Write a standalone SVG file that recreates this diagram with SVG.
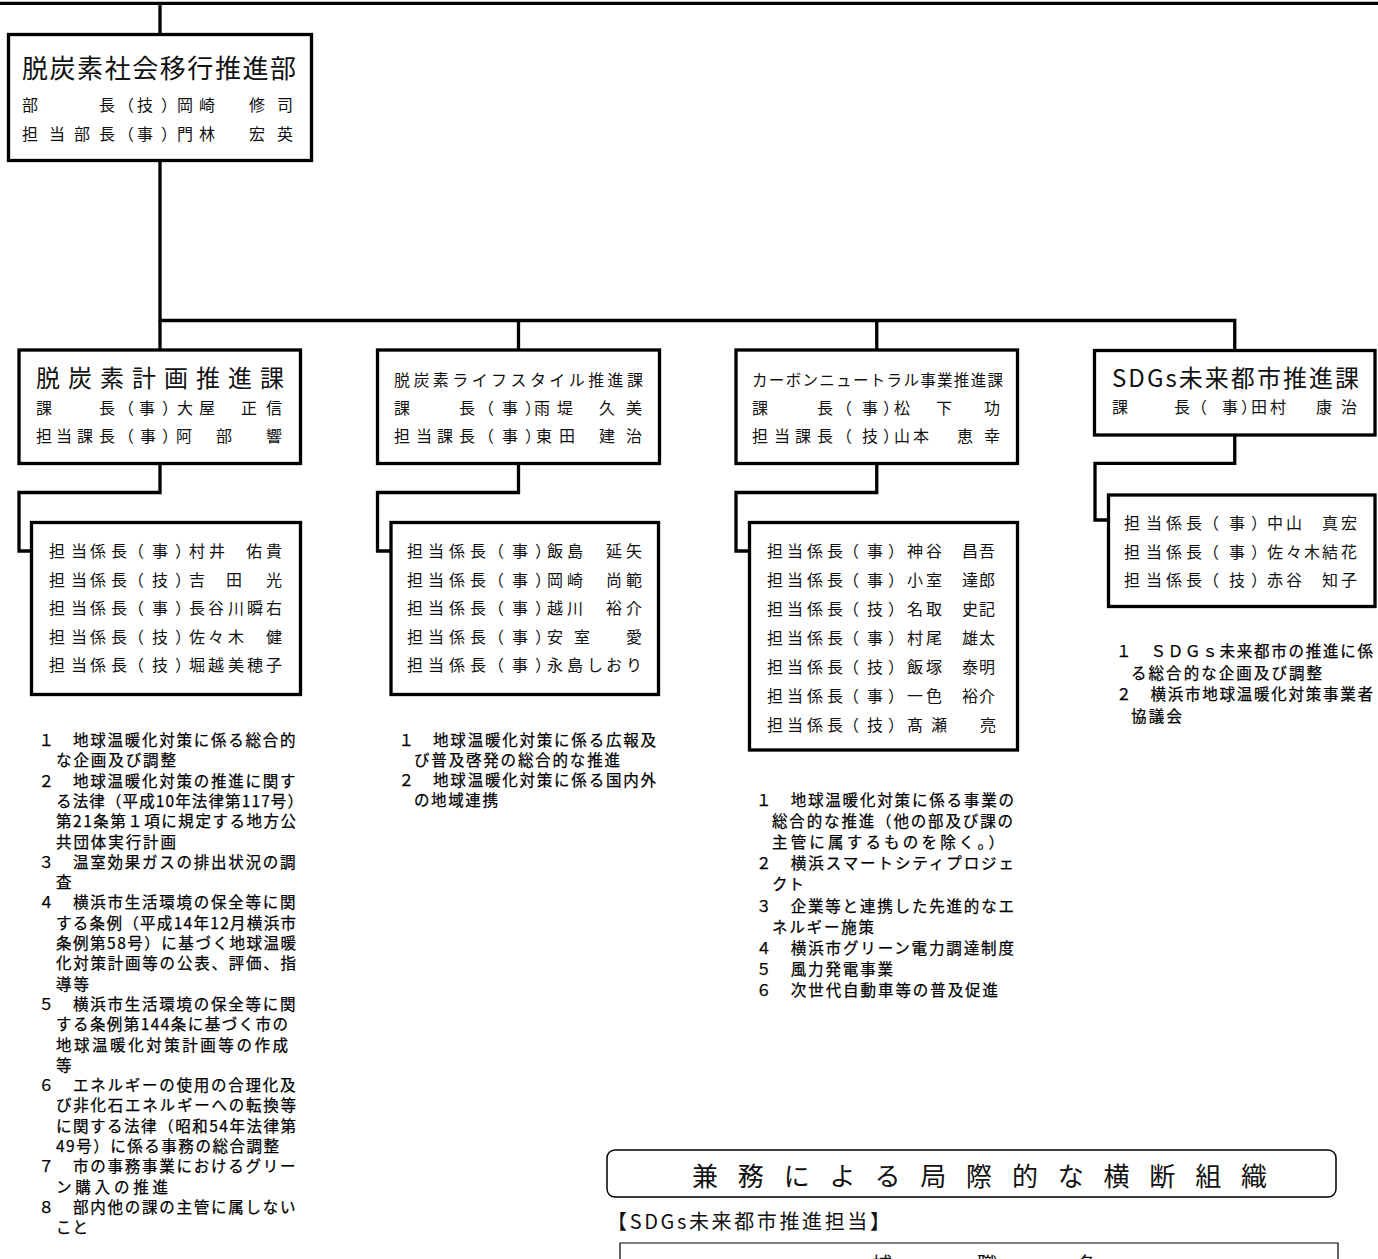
<svg xmlns="http://www.w3.org/2000/svg" width="1378" height="1259" viewBox="0 0 1378 1259">
<style>
.box{fill:#fff;stroke:#000;stroke-width:3.3}
.conn{fill:none;stroke:#000;stroke-width:3.3;stroke-linejoin:miter}
.thin{fill:none;stroke:#000;stroke-width:1.5}
text{font-family:"Noto Sans CJK JP","Noto Sans CJK SC",sans-serif;fill:#111}
.n{font-size:16px}
.d{font-size:15.5px;fill:#000;stroke:#000;stroke-width:0.25}
.h24{font-size:24px}
.h26{font-size:26px}
</style>
<rect width="1378" height="1259" fill="#fff"/>
<g id="connectors">
<path class="conn" d="M0 3.3 H1378"/>
<path class="conn" d="M160 3 V34.5"/>
<path class="conn" d="M160 160.5 V320.5 H1234.75 V350.5"/>
<path class="conn" d="M160 320.5 V350"/>
<path class="conn" d="M518.5 320.5 V350"/>
<path class="conn" d="M876.75 320.5 V350"/>
<path class="conn" d="M160 463.5 V492.5 H19 V551 H31.5"/>
<path class="conn" d="M518.5 463.5 V492.5 H377.5 V551 H391"/>
<path class="conn" d="M876.75 463.5 V492.5 H736 V551 H749.5"/>
<path class="conn" d="M1234.75 435 V463.3 H1095 V520 H1108.5"/>
</g>
<g id="dept">
<rect class="box" x="8.5" y="34.5" width="303" height="126"/>
<text class="h26" x="22" y="78" textLength="274" lengthAdjust="spacing">脱炭素社会移行推進部</text>
<text class="n" x="22 48 74 99 118 137 161 177 199 224 249 277" y="111">部　　長（技）岡崎　修司</text>
<text class="n" x="22 49 74 99 118 137 161 177 199 224 249 277" y="140">担当部長（事）門林　宏英</text>
</g>
<g id="ka1">
<rect class="box" x="19" y="350" width="281.5" height="113.5"/>
<text class="h24" x="36" y="387" textLength="248" lengthAdjust="spacing">脱炭素計画推進課</text>
<text class="n" x="36 57 78 99 118 139 162 177 199 220 241 266" y="414">課　　長（事）大屋　正信</text>
<text class="n" x="36 56 77 99 118 140 162 176 196 216 233 250 266" y="442">担当課長（事）阿　部　　響</text>
</g>
<g id="kakari1">
<rect class="box" x="31.5" y="522.5" width="269" height="172"/>
<text class="n" x="49 71 90 111 128 152 175 189 209 228 246 266" y="557">担当係長（事）村井　佑貴</text>
<text class="n" x="49 71 90 111 128 152 175 189 207 226 239 252 266" y="585.5">担当係長（技）吉　田　　光</text>
<text class="n" x="49 71 90 111 128 152 175 189 208 228 247 266" y="614">担当係長（事）長谷川瞬右</text>
<text class="n" x="49 71 90 111 128 152 175 189 208 228 247 266" y="642.5">担当係長（技）佐々木　健</text>
<text class="n" x="49 71 90 111 128 152 175 189 208 228 247 266" y="671">担当係長（技）堀越美穂子</text>
</g>
<g id="ka2">
<rect class="box" x="377.5" y="350" width="282" height="113.5"/>
<text class="n" x="394" y="386" textLength="249" lengthAdjust="spacing">脱炭素ライフスタイル推進課</text>
<text class="n" x="394 416 437 459 478 502 525 534 557 578 599 626" y="414">課　　長（事）雨堤　久美</text>
<text class="n" x="394 416 437 459 478 502 525 536 559 578 599 626" y="442">担当課長（事）東田　建治</text>
</g>
<g id="kakari2">
<rect class="box" x="391" y="522.5" width="267.5" height="172"/>
<text class="n" x="407 428 449 470 488 512 535 547 567 587 606 626" y="557">担当係長（事）飯島　延矢</text>
<text class="n" x="407 428 449 470 488 512 535 547 567 587 606 626" y="585.5">担当係長（事）岡崎　尚範</text>
<text class="n" x="407 428 449 470 488 512 535 547 567 587 606 626" y="614">担当係長（事）越川　裕介</text>
<text class="n" x="407 428 449 470 488 512 535 547 560 574 590 608 626" y="642.5">担当係長（事）安　室　　愛</text>
<text class="n" x="407 428 449 470 488 512 535 547 567 587 606 626" y="671">担当係長（事）永島しおり</text>
</g>
<g id="ka3">
<rect class="box" x="736" y="350" width="281.5" height="113.5"/>
<text class="n" x="752" y="386" style="font-size:15.5px" textLength="251" lengthAdjust="spacing">カーボンニュートラル事業推進課</text>
<text class="n" x="752 774 795 817 836 862 883 894 915 936 952 968 984" y="414">課　　長（事）松　下　　功</text>
<text class="n" x="752 774 795 817 836 862 883 894 913 935 957 984" y="442">担当課長（技）山本　恵幸</text>
</g>
<g id="kakari3">
<rect class="box" x="749.5" y="522.5" width="268" height="227.5"/>
<text class="n" x="767 787 807 827 843 867 888 907 926 943 962 979" y="557">担当係長（事）神谷　昌吾</text>
<text class="n" x="767 787 807 827 843 867 888 907 926 943 962 979" y="586">担当係長（事）小室　達郎</text>
<text class="n" x="767 787 807 827 843 867 888 907 926 943 962 979" y="615">担当係長（技）名取　史記</text>
<text class="n" x="767 787 807 827 843 867 888 907 926 943 962 979" y="644">担当係長（事）村尾　雄太</text>
<text class="n" x="767 787 807 827 843 867 888 907 926 943 962 979" y="673">担当係長（技）飯塚　泰明</text>
<text class="n" x="767 787 807 827 843 867 888 907 926 943 962 979" y="702">担当係長（事）一色　裕介</text>
<text class="n" x="767 787 807 827 843 867 888 907 919 931 948 964 980" y="731">担当係長（技）髙　瀬　　亮</text>
</g>
<g id="ka4">
<rect class="box" x="1094.5" y="350.5" width="280.5" height="84.5"/>
<text class="h24" x="1112" y="387" textLength="247" lengthAdjust="spacing">SDGs未来都市推進課</text>
<text class="n" x="1112 1133 1154 1174 1191 1222 1241 1251 1270 1293 1316 1341" y="413">課　　長（事）田村　康治</text>
</g>
<g id="kakari4">
<rect class="box" x="1108.5" y="495" width="266.5" height="111.5"/>
<text class="n" x="1124 1146 1166 1186 1203 1229 1251 1267 1286 1304 1322 1341" y="529">担当係長（事）中山　真宏</text>
<text class="n" x="1124 1146 1166 1186 1203 1229 1251 1267 1286 1304 1322 1341" y="557.5">担当係長（事）佐々木結花</text>
<text class="n" x="1124 1146 1166 1186 1203 1229 1251 1267 1286 1304 1322 1341" y="586">担当係長（技）赤谷　知子</text>
</g>
<g id="duties1">
<text class="d" x="38.5" y="746" textLength="257" lengthAdjust="spacing">１　地球温暖化対策に係る総合的</text>
<text class="d" x="56" y="766.3" textLength="120" lengthAdjust="spacing">な企画及び調整</text>
<text class="d" x="38.5" y="786.6" textLength="257" lengthAdjust="spacing">２　地球温暖化対策の推進に関す</text>
<text class="d" x="56" y="806.9" textLength="247" lengthAdjust="spacing">る法律（平成10年法律第117号）</text>
<text class="d" x="56" y="827.2" textLength="240" lengthAdjust="spacing">第21条第１項に規定する地方公</text>
<text class="d" x="56" y="847.5" textLength="120" lengthAdjust="spacing">共団体実行計画</text>
<text class="d" x="38.5" y="867.8" textLength="257" lengthAdjust="spacing">３　温室効果ガスの排出状況の調</text>
<text class="d" x="56" y="888.1">査</text>
<text class="d" x="38.5" y="908.4" textLength="257" lengthAdjust="spacing">４　横浜市生活環境の保全等に関</text>
<text class="d" x="56" y="928.7" textLength="240" lengthAdjust="spacing">する条例（平成14年12月横浜市</text>
<text class="d" x="56" y="949" textLength="240" lengthAdjust="spacing">条例第58号）に基づく地球温暖</text>
<text class="d" x="56" y="969.3" textLength="240" lengthAdjust="spacing">化対策計画等の公表、評価、指</text>
<text class="d" x="56" y="989.6" textLength="33" lengthAdjust="spacing">導等</text>
<text class="d" x="38.5" y="1009.9" textLength="257" lengthAdjust="spacing">５　横浜市生活環境の保全等に関</text>
<text class="d" x="56" y="1030.2" textLength="232" lengthAdjust="spacing">する条例第144条に基づく市の</text>
<text class="d" x="56" y="1050.5" textLength="232" lengthAdjust="spacing">地球温暖化対策計画等の作成</text>
<text class="d" x="56" y="1070.8">等</text>
<text class="d" x="38.5" y="1091.1" textLength="257" lengthAdjust="spacing">６　エネルギーの使用の合理化及</text>
<text class="d" x="56" y="1111.4" textLength="240" lengthAdjust="spacing">び非化石エネルギーへの転換等</text>
<text class="d" x="56" y="1131.7" textLength="240" lengthAdjust="spacing">に関する法律（昭和54年法律第</text>
<text class="d" x="56" y="1152" textLength="223" lengthAdjust="spacing">49号）に係る事務の総合調整</text>
<text class="d" x="38.5" y="1172.3" textLength="257" lengthAdjust="spacing">７　市の事務事業におけるグリー</text>
<text class="d" x="56" y="1192.6" textLength="112" lengthAdjust="spacing">ン購入の推進</text>
<text class="d" x="38.5" y="1212.9" textLength="257" lengthAdjust="spacing">８　部内他の課の主管に属しない</text>
<text class="d" x="56" y="1233.2" textLength="32" lengthAdjust="spacing">こと</text>
</g>
<g id="duties2">
<text class="d" x="398.5" y="746" textLength="257.5" lengthAdjust="spacing">１　地球温暖化対策に係る広報及</text>
<text class="d" x="414" y="766" textLength="206" lengthAdjust="spacing">び普及啓発の総合的な推進</text>
<text class="d" x="398.5" y="786" textLength="257.5" lengthAdjust="spacing">２　地球温暖化対策に係る国内外</text>
<text class="d" x="414" y="806" textLength="84" lengthAdjust="spacing">の地域連携</text>
</g>
<g id="duties3">
<text class="d" x="756" y="806" textLength="258" lengthAdjust="spacing">１　地球温暖化対策に係る事業の</text>
<text class="d" x="772" y="827.1" textLength="241" lengthAdjust="spacing">総合的な推進（他の部及び課の</text>
<text class="d" x="772" y="848.2" textLength="232" lengthAdjust="spacing">主管に属するものを除く。）</text>
<text class="d" x="756" y="869.3" textLength="258" lengthAdjust="spacing">２　横浜スマートシティプロジェ</text>
<text class="d" x="772" y="890.4" textLength="32" lengthAdjust="spacing">クト</text>
<text class="d" x="756" y="911.5" textLength="258" lengthAdjust="spacing">３　企業等と連携した先進的なエ</text>
<text class="d" x="772" y="932.6" textLength="102" lengthAdjust="spacing">ネルギー施策</text>
<text class="d" x="756" y="953.7" textLength="258" lengthAdjust="spacing">４　横浜市グリーン電力調達制度</text>
<text class="d" x="756" y="974.8" textLength="137" lengthAdjust="spacing">５　風力発電事業</text>
<text class="d" x="756" y="995.9" textLength="242" lengthAdjust="spacing">６　次世代自動車等の普及促進</text>
</g>
<g id="duties4">
<text class="d" x="1116" y="657" textLength="257" lengthAdjust="spacing">１　ＳＤＧｓ未来都市の推進に係</text>
<text class="d" x="1131" y="678.5" textLength="191" lengthAdjust="spacing">る総合的な企画及び調整</text>
<text class="d" x="1116" y="700" textLength="257" lengthAdjust="spacing">２　横浜市地球温暖化対策事業者</text>
<text class="d" x="1131" y="721.5" textLength="51" lengthAdjust="spacing">協議会</text>
</g>
<g id="cross-org">
<rect class="thin" x="607" y="1150" width="729" height="47" rx="8"/>
<text class="h26" x="692" y="1186" textLength="575" lengthAdjust="spacing">兼務による局際的な横断組織</text>
<text x="607" y="1229" style="font-size:20px" textLength="283" lengthAdjust="spacing">【SDGs未来都市推進担当】</text>
</g>
<g id="table">
<path class="thin" d="M620 1270 V1243 H1338 V1270" style="stroke-width:1.2"/>
<text x="872 925 977 1027 1077" y="1272" style="font-size:20px">補　職　名</text>
</g>
</svg>
